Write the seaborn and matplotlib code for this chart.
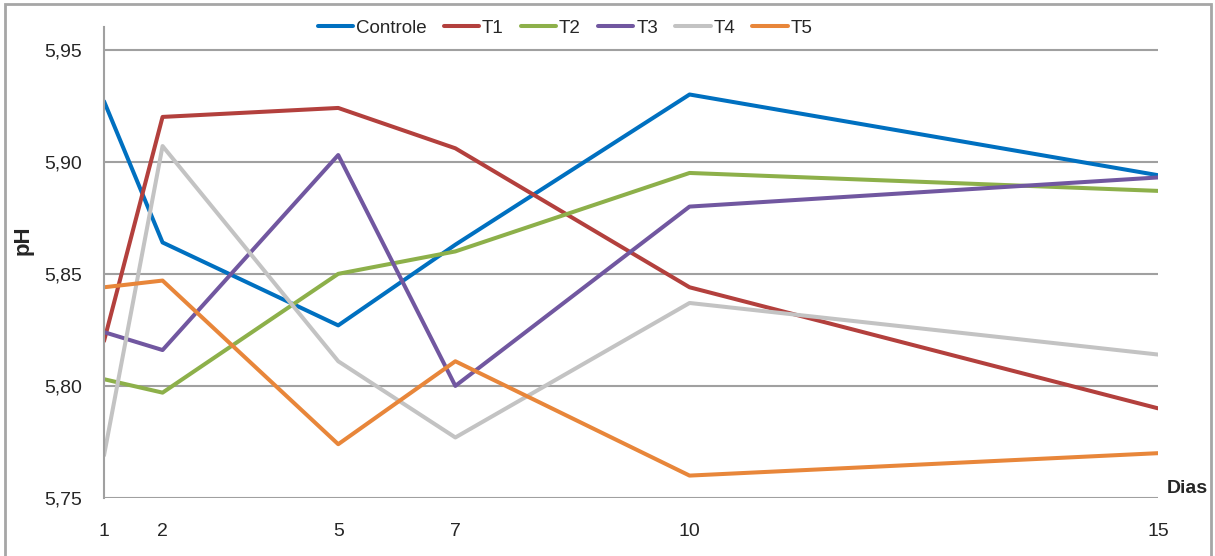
import matplotlib
matplotlib.use("Agg")
import matplotlib.pyplot as plt
from matplotlib import font_manager
from matplotlib.patches import Rectangle
import seaborn as sns
import pandas as pd

# Sampling days and their spacing along the horizontal axis
days = [1, 2, 5, 7, 10, 15]
day_positions = [0, 1, 4, 6, 10, 18]

series_names = ["Controle", "T1", "T2", "T3", "T4", "T5"]
ph_controle = [5.927, 5.864, 5.827, 5.863, 5.930, 5.894]
ph_t1 = [5.820, 5.920, 5.924, 5.906, 5.844, 5.790]
ph_t2 = [5.803, 5.797, 5.850, 5.860, 5.895, 5.887]
ph_t3 = [5.824, 5.816, 5.903, 5.800, 5.880, 5.893]
ph_t4 = [5.769, 5.907, 5.811, 5.777, 5.837, 5.814]
ph_t5 = [5.844, 5.847, 5.774, 5.811, 5.760, 5.770]

colors = ["#0070C0", "#B3403D", "#8DB04A", "#7157A0", "#C3C3C3", "#E8863A"]
y_ticks = [5.75, 5.80, 5.85, 5.90, 5.95]

values = [ph_controle, ph_t1, ph_t2, ph_t3, ph_t4, ph_t5]
rows = []
for name, vals in zip(series_names, values):
    for d, p, v in zip(days, day_positions, vals):
        rows.append({"Tratamento": name, "dia": d, "pos": p, "pH": v})
df = pd.DataFrame(rows)

sns.set_style("white")
available = {f.name for f in font_manager.fontManager.ttflist}
base_font = "Liberation Sans Narrow" if "Liberation Sans Narrow" in available else "Liberation Sans"
plt.rcParams["font.family"] = [base_font, "DejaVu Sans"]

fig = plt.figure(figsize=(12.15, 5.56), dpi=100)
ax = fig.add_axes([0.0856, 0.1043, 0.8675, 0.8467])

sns.lineplot(data=df, x="pos", y="pH", hue="Tratamento", hue_order=series_names,
             palette=colors, linewidth=2.9, ax=ax, legend=True)

ax.set_xlim(day_positions[0], day_positions[-1])
ax.set_ylim(5.75, 5.96)
ax.set_yticks(y_ticks)
ax.set_yticklabels([f"{t:.2f}".replace(".", ",") for t in y_ticks], fontsize=14)
ax.set_xticks(day_positions)
ax.set_xticklabels([str(d) for d in days], fontsize=14)
ax.tick_params(axis="both", length=0)
ax.tick_params(axis="y", pad=16)
ax.tick_params(axis="x", pad=18)

ax.grid(axis="y", color="#A0A0A0", linewidth=1.5)
ax.set_axisbelow(True)
for side in ["top", "right", "bottom"]:
    ax.spines[side].set_visible(False)
ax.spines["left"].set_color("#A0A0A0")
ax.spines["left"].set_linewidth(1.5)

ax.set_xlabel("")
ax.set_ylabel("pH", fontsize=16, fontweight="bold")
ax.yaxis.set_label_coords(-0.067, 0.548)
fig.text(0.977, 0.122, "Dias", fontsize=14, fontweight="bold", ha="center", va="center")

handles, labels = ax.get_legend_handles_labels()
ax.legend(handles, labels, loc="center", bbox_to_anchor=(0.465, 0.949),
          bbox_transform=fig.transFigure, ncol=6, frameon=False, fontsize=13.5,
          handlelength=1.9, handletextpad=0.15, columnspacing=0.9)

fig.patches.append(Rectangle((0.004, -0.02), 0.993, 1.013, transform=fig.transFigure,
                             fill=False, edgecolor="#A6A6A6", linewidth=2))

fig.savefig("out.png", dpi=100, facecolor="white")
